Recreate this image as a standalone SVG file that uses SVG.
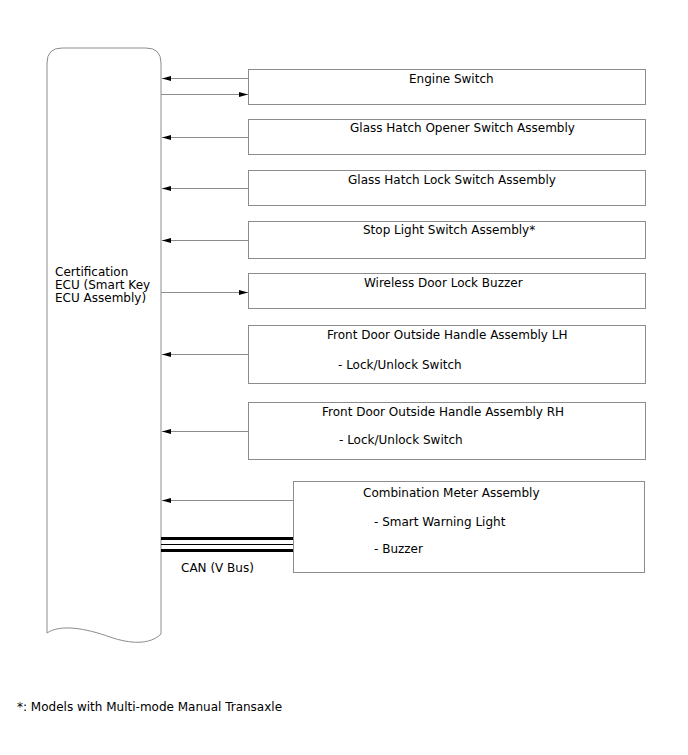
<svg xmlns="http://www.w3.org/2000/svg" width="688" height="755" viewBox="0 0 688 755">
<style>
.box{fill:#fff;stroke:#8c8c8c;stroke-width:1}
.t{font-family:"DejaVu Sans",sans-serif;font-size:12px;fill:#000}
.ln{stroke:#8c8c8c;stroke-width:1;fill:none}
.can{stroke:#000;stroke-width:3;fill:none}
</style>
<defs>
<marker id="ah" markerWidth="10" markerHeight="8" refX="9" refY="4" orient="auto" markerUnits="userSpaceOnUse">
<path d="M0,1.5 L9,4 L0,6.5 Z" fill="#000"/>
</marker>
</defs>
<rect width="688" height="755" fill="#fff"/>
<g id="ecu">
<path class="box" d="M47,633 L47,63 Q47,48 62,48 L146,48 Q161,48 161,63 L161,634 C150,645 130,644 110,637 C85,628 60,624 47,633 Z"/>
<text class="t" x="55" y="276">Certification</text>
<text class="t" x="55" y="289">ECU (Smart Key</text>
<text class="t" x="55" y="302">ECU Assembly)</text>
</g>
<g id="engine-switch">
<rect class="box" x="248.5" y="69.5" width="397" height="35"/>
<text class="t" x="409" y="83">Engine Switch</text>
</g>
<g id="glass-hatch-opener">
<rect class="box" x="248.5" y="119.5" width="397" height="35"/>
<text class="t" x="350" y="132">Glass Hatch Opener Switch Assembly</text>
</g>
<g id="glass-hatch-lock">
<rect class="box" x="248.5" y="170.5" width="397" height="35"/>
<text class="t" x="348" y="184">Glass Hatch Lock Switch Assembly</text>
</g>
<g id="stop-light">
<rect class="box" x="248.5" y="221.5" width="397" height="37"/>
<text class="t" x="363" y="234">Stop Light Switch Assembly*</text>
</g>
<g id="wireless-buzzer">
<rect class="box" x="248.5" y="273.5" width="397" height="35"/>
<text class="t" x="364" y="287">Wireless Door Lock Buzzer</text>
</g>
<g id="front-door-lh">
<rect class="box" x="248.5" y="325.5" width="397" height="58"/>
<text class="t" x="327" y="339">Front Door Outside Handle Assembly LH</text>
<text class="t" x="338" y="369">- Lock/Unlock Switch</text>
</g>
<g id="front-door-rh">
<rect class="box" x="248.5" y="402.5" width="397" height="57"/>
<text class="t" x="322" y="416">Front Door Outside Handle Assembly RH</text>
<text class="t" x="339" y="444">- Lock/Unlock Switch</text>
</g>
<g id="combination-meter">
<rect class="box" x="293.5" y="481.5" width="351" height="91"/>
<text class="t" x="363" y="497">Combination Meter Assembly</text>
<text class="t" x="374" y="526">- Smart Warning Light</text>
<text class="t" x="374" y="553">- Buzzer</text>
</g>
<g id="connectors">
<line class="ln" x1="248" y1="78.5" x2="162" y2="78.5" marker-end="url(#ah)"/>
<line class="ln" x1="161" y1="94.5" x2="248" y2="94.5" marker-end="url(#ah)"/>
<line class="ln" x1="248" y1="137.5" x2="162" y2="137.5" marker-end="url(#ah)"/>
<line class="ln" x1="248" y1="188.5" x2="162" y2="188.5" marker-end="url(#ah)"/>
<line class="ln" x1="248" y1="240.5" x2="162" y2="240.5" marker-end="url(#ah)"/>
<line class="ln" x1="161" y1="292.5" x2="248" y2="292.5" marker-end="url(#ah)"/>
<line class="ln" x1="248" y1="354.5" x2="162" y2="354.5" marker-end="url(#ah)"/>
<line class="ln" x1="248" y1="431.5" x2="162" y2="431.5" marker-end="url(#ah)"/>
<line class="ln" x1="293" y1="500.5" x2="162" y2="500.5" marker-end="url(#ah)"/>
<line class="can" x1="161" y1="538.5" x2="293" y2="538.5"/>
<line x1="161" y1="544.5" x2="293" y2="544.5" stroke="#000" stroke-width="1"/>
<line class="can" x1="161" y1="550.5" x2="293" y2="550.5"/>
<text class="t" x="181" y="572">CAN (V Bus)</text>
</g>
<text class="t" x="17" y="711">*: Models with Multi-mode Manual Transaxle</text>
</svg>
